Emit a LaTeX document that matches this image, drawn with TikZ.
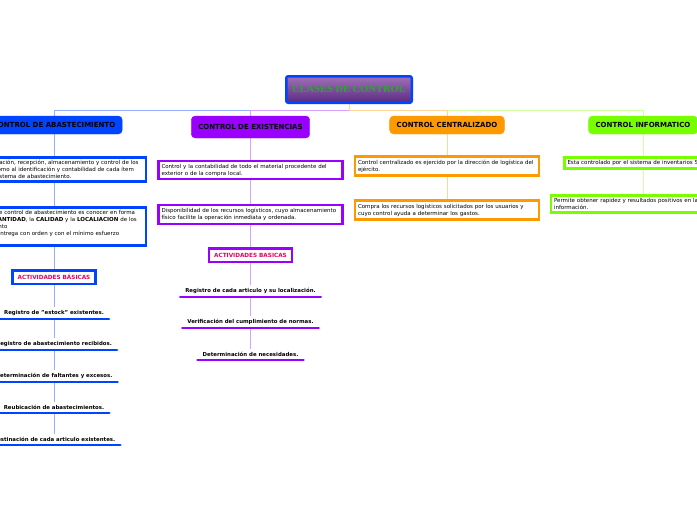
\documentclass[tikz,border=0pt]{standalone}
\usepackage{fontspec}
\setmainfont{DejaVu Sans}
\newfontfamily\titlefont{Liberation Serif}
\usepackage{tikz}
\usetikzlibrary{positioning,backgrounds}
\usepackage{xcolor}
\definecolor{abasblue}{HTML}{0044FF}
\definecolor{exispurple}{HTML}{9900FF}
\definecolor{centorange}{HTML}{FF9900}
\definecolor{infogreen}{HTML}{77FF00}
\definecolor{actpink}{HTML}{E8005A}
\definecolor{titlegreen}{HTML}{1FB01F}
\definecolor{titletop}{HTML}{A070B8}
\definecolor{titlebottom}{HTML}{5A2A82}
\definecolor{linkblue}{HTML}{96AEFF}
\definecolor{linkpurple}{HTML}{D6A3FF}
\definecolor{linkorange}{HTML}{FFD699}
\definecolor{linkgreen}{HTML}{D5FFA0}

\begin{document}
\begin{tikzpicture}[x=1pt,y=-1pt,
  title/.style={rectangle,draw=abasblue,line width=2.5pt,rounded corners=2pt,
    top color=titletop,bottom color=titlebottom,minimum width=125.5pt,minimum height=26.5pt,
    font=\titlefont\fontsize{10.5}{11}\selectfont\bfseries,text=titlegreen},
  head/.style={rectangle,rounded corners=4pt,inner xsep=7pt,minimum height=18pt,
    font=\fontsize{7}{8}\selectfont\bfseries},
  textbox/.style={rectangle,fill=white,line width=2.5pt,text width=178pt,inner xsep=3pt,
    inner ysep=3pt,align=left,font=\fontsize{5.5}{7}\selectfont},
  actbox/.style={rectangle,fill=white,line width=2.5pt,inner xsep=5pt,minimum height=13.5pt,
    text=actpink,font=\fontsize{5.7}{6}\selectfont\bfseries},
  item/.style={fill=white,inner xsep=5pt,inner ysep=3pt,anchor=south,
    font=\fontsize{5.4}{6}\selectfont\bfseries},
  bar/.style={line width=2.5pt,line cap=round},
  link/.style={line width=0.8pt},
]
\useasboundingbox (0,0) rectangle (697,520);

% Title
\node[title] (clases) at (349,89.5) {CLASES DE CONTROL};

% Branch headers
\node[head,fill=abasblue,draw=abasblue] (habas) at (54,125) {CONTROL DE ABASTECIMIENTO};
\node[head,fill=exispurple,draw=exispurple,minimum height=22pt] (hexis) at (250.5,127) {CONTROL DE EXISTENCIAS};
\node[head,fill=centorange,draw=centorange] (hcent) at (447,125) {CONTROL CENTRALIZADO};
\node[head,fill=infogreen,draw=infogreen] (hinfo) at (643,125) {CONTROL INFORMATICO};

% Control de abastecimiento
\node[textbox,draw=abasblue] (abas1) at (54,169.5) {La administración, recepción, almacenamiento y control de los\\
  bienes así como al identificación y contabilidad de cada ítem\\
  dentro del sistema de abastecimiento.};
\node[textbox,draw=abasblue] (abas2) at (54,226.5) {El objetivo de control de abastecimiento es conocer en forma\\
  exacta, la \textbf{CANTIDAD}, la \textbf{CALIDAD} y la \textbf{LOCALIACION} de los\\
  abastecimiento\\
  permitir su entrega con orden y con el mínimo esfuerzo\\ \mbox{}};
\node[actbox,draw=abasblue] (abasact) at (54,277) {ACTIVIDADES BÁSICAS};
\node[item] (a1) at (54,319) {Registro de "estock" existentes.};
\node[item] (a2) at (54,350) {Registro de abastecimiento recibidos.};
\node[item] (a3) at (54,382) {Determinación de faltantes y excesos.};
\node[item] (a4) at (54,413) {Reubicación de abastecimientos.};
\node[item] (a5) at (54,445) {Destinación de cada articulo existentes.};

% Control de existencias
\node[textbox,draw=exispurple] (exis1) at (250.5,170) {Control y la contabilidad de todo el material procedente del\\
  exterior o de la compra local.};
\node[textbox,draw=exispurple] (exis2) at (250.5,214.5) {Disponibilidad de los recursos logísticos, cuyo almacenamiento\\
  físico facilite la operación inmediata y ordenada.};
\node[actbox,draw=exispurple] (exisact) at (250.5,255) {ACTIVIDADES BASICAS};
\node[item] (e1) at (250.5,297) {Registro de cada articulo y su localización.};
\node[item] (e2) at (250.5,328) {Verificación del cumplimiento de normas.};
\node[item] (e3) at (250.5,360) {Determinación de necesidades.};

% Control centralizado
\node[textbox,draw=centorange] (cent1) at (447,166) {Control centralizado es ejercido por la dirección de logística del\\
  ejército.};
\node[textbox,draw=centorange] (cent2) at (447,210) {Compra los recursos logísticos solicitados por los usuarios y\\
  cuyo control ayuda a determinar los gastos.};

% Control informatico
\node[textbox,draw=infogreen,text width=151pt] (info1) at (643,163) {Esta controlado por el sistema de inventarios SIGLOG.};
\node[textbox,draw=infogreen] (info2) at (643,204) {Permite obtener rapidez y resultados positivos en la gestión de\\
  información.};

% Underlines of the activities
\draw[bar,abasblue] (a1.south west) -- (a1.south east);
\draw[bar,abasblue] (a2.south west) -- (a2.south east);
\draw[bar,abasblue] (a3.south west) -- (a3.south east);
\draw[bar,abasblue] (a4.south west) -- (a4.south east);
\draw[bar,abasblue] (a5.south west) -- (a5.south east);
\draw[bar,exispurple] (e1.south west) -- (e1.south east);
\draw[bar,exispurple] (e2.south west) -- (e2.south east);
\draw[bar,exispurple] (e3.south west) -- (e3.south east);

% Connectors
\begin{scope}[on background layer]
\draw[link,linkblue] (clases.south) -- ++(0,6) -| (habas.north);
\draw[link,linkgreen] (clases.south) -- ++(0,6) -| (hinfo.north);
\draw[link,linkpurple] (clases.south) -- ++(0,6) -| (hexis.north);
\draw[link,linkorange] (clases.south) -- ++(0,6) -| (hcent.north);
\draw[link,linkblue] (habas) -- (abas1) -- (abas2) -- (abasact) -- (a1) -- (a2) -- (a3) -- (a4) -- (a5);
\draw[link,linkpurple] (hexis) -- (exis1) -- (exis2) -- (exisact) -- (e1) -- (e2) -- (e3);
\draw[link,linkorange] (hcent) -- (cent1) -- (cent2);
\draw[link,linkgreen] (hinfo) -- (info1) -- (info2);
\end{scope}

\end{tikzpicture}
\end{document}
